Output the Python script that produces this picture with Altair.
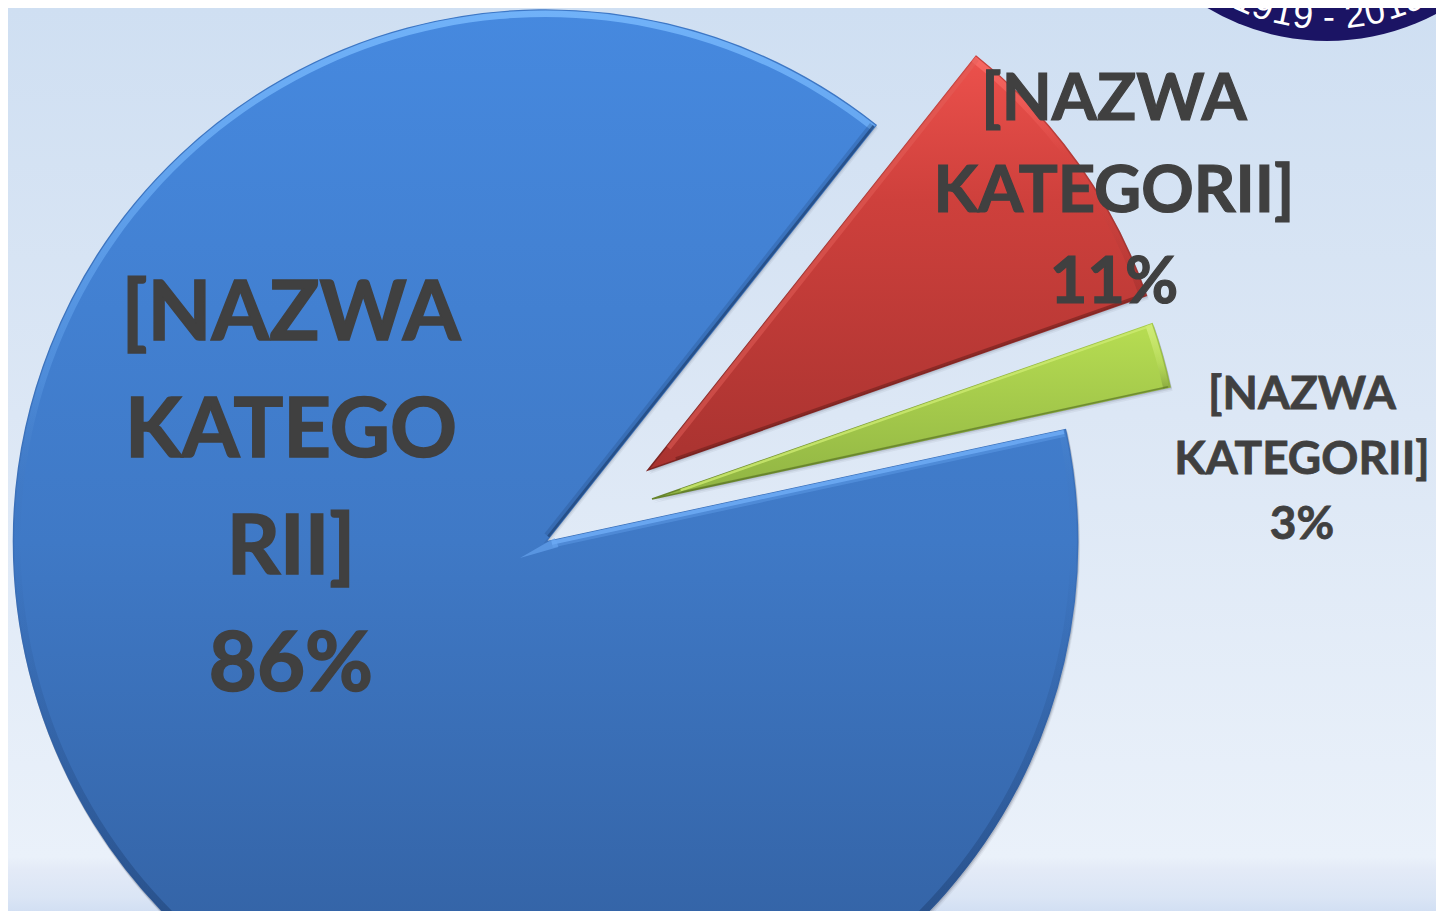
import math
import altair as alt
import pandas as pd

# --- values ---
categories = ["red", "green", "blue"]
names = ["[NAZWA\nKATEGORII]\n11%", "[NAZWA\nKATEGORII]\n3%", "[NAZWA\nKATEGO\nRII]\n86%"]
drawn_degrees = [32.3, 7.1, 320.6]     # sweep of each slice as drawn
logo_text = "1919 - 2019"

# --- layout (page px minus 8px margin) ---
W, H = 1428, 903
OFF = 8
START = 38.4
centers = {"red": (648 - OFF, 470 - OFF), "green": (652 - OFF, 499 - OFF), "blue": (545.5 - OFF, 542 - OFF)}
radii = {"red": 529, "green": 531, "blue": 533}


def grad(*stops):
    return alt.Gradient(gradient="linear", x1=0, x2=0, y1=0, y2=1,
                        stops=[alt.GradientStop(offset=o, color=c) for o, c in stops])


fills = {
    "red": grad((0, "#EC514C"), (0.35, "#CE403C"), (1, "#A93330")),
    "green": grad((0, "#B7DD52"), (1, "#8FB343")),
    "blue": grad((0, "#4689DF"), (0.5, "#3F79C6"), (1, "#305C9B")),
}
rims = {
    "red": grad((0, "#C9423E"), (1, "#7C2422")),
    "green": grad((0, "#A6CB4A"), (1, "#66832C")),
    "blue": grad((0, "#3E78C6"), (0.55, "#3A6FB8"), (1, "#23477E")),
}
bevel_rings = {
    "red": grad((0, "rgba(250,110,105,0.8)"), (0.4, "rgba(250,110,105,0)"), (1, "rgba(90,20,20,0.2)")),
    "green": grad((0, "rgba(215,240,130,0.8)"), (0.6, "rgba(215,240,130,0.2)"), (1, "rgba(70,90,30,0.3)")),
    "blue": grad((0, "rgba(115,180,250,0.95)"), (0.35, "rgba(115,180,250,0.25)"), (0.5, "rgba(40,80,140,0)"),
                 (1, "rgba(25,55,100,0.7)")),
}

t0, t1, acc = [], [], 0.0
for d in drawn_degrees:
    t0.append(acc)
    acc += d
    t1.append(acc)
slices = pd.DataFrame({"cat": categories, "t0": t0, "t1": t1})
theta_scale = alt.Scale(domain=[0, 360], range=[math.radians(START), math.radians(START) + 2 * math.pi])

layers = []

background = alt.Chart(pd.DataFrame({"a": [0]})).mark_rect(
    color=grad((0, "#CFDFF2"), (0.45, "#DCE7F5"), (0.94, "#EAF1FA"), (0.955, "#E3EAF7"),
               (0.985, "#DAE5F5"), (1, "#D2DFF3"))
).encode(x=alt.value(0), x2=alt.value(W), y=alt.value(0), y2=alt.value(H))
layers.append(background)

# logo disc
logo_c = (1327 - OFF, -192 - OFF)
logo_r = 233
layers.append(
    alt.Chart(pd.DataFrame({"a": [0]})).mark_arc(outerRadius=logo_r, theta=0, theta2=2 * math.pi, color="#1B1464")
    .encode(x=alt.value(logo_c[0]), y=alt.value(logo_c[1]))
)
glyph_dx = [1245, 1263, 1283, 1303, 1329, 1355, 1375, 1395, 1413]
glyphs = [c for c in logo_text if c != " "]
GR = 210
rows = []
for ch, px in zip(glyphs, glyph_dx):
    a = math.asin((px - 1327) / GR)
    rows.append({"ch": ch, "gx": logo_c[0] + GR * math.sin(a),
                 "gy": logo_c[1] + GR * math.cos(a), "ga": (-math.degrees(a)) % 360})
layers.append(
    alt.Chart(pd.DataFrame(rows)).mark_text(font="Liberation Sans", fontSize=36, color="#FFFFFF",
                                            align="center", baseline="middle")
    .encode(x=alt.X("gx:Q", scale=None), y=alt.Y("gy:Q", scale=None),
            angle=alt.Angle("ga:Q", scale=None), text="ch:N")
)


def sl(cat):
    return alt.Chart(slices).transform_filter(alt.datum.cat == cat)


theta = alt.Theta("t0:Q", scale=theta_scale, stack=None)
theta2 = alt.Theta2("t1:Q")

# soft shadows
for cat in categories:
    cx, cy = centers[cat]
    for d, op in ((4, 0.06), (2.5, 0.10), (1.2, 0.16)):
        layers.append(
            sl(cat).mark_arc(outerRadius=radii[cat], color="#30384A", opacity=op)
            .encode(theta=theta, theta2=theta2, x=alt.value(cx + d * 0.4), y=alt.value(cy + d))
        )

# slices
for cat in categories:
    cx, cy = centers[cat]
    layers.append(
        sl(cat).mark_arc(outerRadius=radii[cat] - 1, fill=fills[cat], stroke=rims[cat], strokeWidth=1.5,
                         strokeJoin="miter")
        .encode(theta=theta, theta2=theta2, x=alt.value(cx), y=alt.value(cy))
    )
    layers.append(
        sl(cat).mark_arc(outerRadius=radii[cat] - 1.5, innerRadius=radii[cat] - 8, fill=bevel_rings[cat])
        .encode(theta=theta, theta2=theta2, x=alt.value(cx), y=alt.value(cy))
    )

# bevels along the cut edges: (slice, edge angle, side, colour, width, opacity)
edge = {
    "red": (START, START + drawn_degrees[0]),
    "green": (START + drawn_degrees[0], START + drawn_degrees[0] + drawn_degrees[1]),
    "blue": (START + drawn_degrees[0] + drawn_degrees[1], START + 360),
}
bevels = [
    ("blue", edge["blue"][0], 1, "#6BA9F3", 7, 0.35),
    ("blue", edge["blue"][0], 1, "#6BA9F3", 4, 0.9),
    ("blue", edge["blue"][1], -1, "#1F4478", 6, 0.25),
    ("blue", edge["blue"][1], -1, "#1F4478", 2.5, 0.7),
    ("red", edge["red"][0], 1, "#E4605A", 5, 0.5),
    ("red", edge["red"][1], -1, "#6E1F1C", 3, 0.6),
    ("green", edge["green"][0], 1, "#CDEB70", 2.5, 0.8),
    ("green", edge["green"][1], -1, "#5F7B28", 1.5, 0.7),
]
for cat, deg, side, col, w, op in bevels:
    cx, cy = centers[cat]
    r = radii[cat] - 3
    a = math.radians(deg)
    ux, uy = math.sin(a), -math.cos(a)
    nx, ny = -uy * side, ux * side   # towards slice interior
    o = w / 2
    start = 6 if cat == "blue" else 30
    layers.append(
        alt.Chart(pd.DataFrame({"a": [0]})).mark_rule(color=col, strokeWidth=w, opacity=op, strokeCap="butt")
        .encode(x=alt.value(cx + ux * start + nx * o), y=alt.value(cy + uy * start + ny * o),
                x2=alt.value(cx + ux * r + nx * o), y2=alt.value(cy + uy * r + ny * o))
    )

# pale tip of the blue bevel, running past the cut's corner
layers.append(
    alt.Chart(pd.DataFrame({"a": [0]})).mark_arc(
        outerRadius=40, theta=math.radians(60), theta2=math.radians(74), color="#6BA9F3", opacity=0.6)
    .encode(x=alt.value(520 - OFF), y=alt.value(558 - OFF))
)

# labels
labels = [
    (names[2], 291, 340, 83, 117, 1.6),
    (names[0], 1114, 120, 65, 91.5, 1.2),
    (names[1], 1302, 409, 46, 65, 0.8),
]
for txt, lx, ly, fs, lh, sw in labels:
    layers.append(
        alt.Chart(pd.DataFrame({"t": [txt]})).mark_text(
            font="Lato", fontSize=fs, fontWeight="bold", color="#404040", stroke="#404040", strokeWidth=sw,
            lineBreak="\n", lineHeight=lh, align="center", baseline="alphabetic")
        .encode(text="t:N", x=alt.value(lx - OFF), y=alt.value(ly - OFF))
    )

chart = alt.layer(*layers).properties(
    width=W, height=H, padding=0, autosize=alt.AutoSizeParams(type="none")
).configure_view(stroke=None)

chart.save("out.html", embed_options={"renderer": "svg", "actions": False})
